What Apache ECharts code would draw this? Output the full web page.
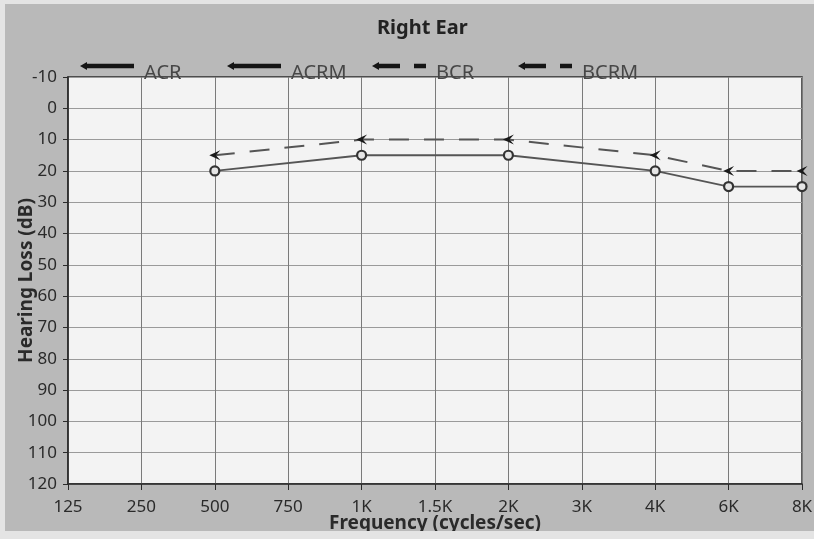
<!DOCTYPE html>
<html>
<head>
<meta charset="utf-8">
<script src="https://cdn.jsdelivr.net/npm/echarts@6/dist/echarts.min.js"></script>
<style>
  html, body {
    margin: 0;
    padding: 0;
    background: #e4e4e4;
  }
  .container {
    position: absolute;
    left: 5px;
    top: 4px;
    width: 809px;
    height: 527px;
    background: #b9b9b9;
  }
</style>
</head>
<body>
<div class="container" id="main"></div>
<script>
// 频率（横轴类目）
const frequencies = ['125', '250', '500', '750', '1K', '1.5K', '2K', '3K', '4K', '6K', '8K']
// 气导 ACR（右耳）
const acrValues = [null, null, 20, null, 15, null, 15, null, 20, 25, 25]
// 骨导 BCR（右耳）
const bcrValues = [null, null, 15, null, 10, null, 10, null, 15, 20, 20]
// 无数据的掩蔽系列
const acrmValues = []
const bcrmValues = []
// 图例名称
const legendNames = ['ACR', 'ACRM', 'BCR', 'BCRM']

const lineIcon = 'path://M0,4 L7,0 L7,1.8 L54,1.8 L54,6.2 L7,6.2 L7,8 Z'
const dashIcon = 'path://M0,4 L7,0 L7,1.8 L28,1.8 L28,6.2 L7,6.2 L7,8 Z M42,1.8 L54,1.8 L54,6.2 L42,6.2 Z'
const arrowSymbol = 'path://M0,5 L10,0 L6,5 L10,10 Z'
const font = '"Noto Sans", "DejaVu Sans", sans-serif'

const mChart = echarts.init(document.getElementById('main'))

/**
 * 每个图例单独放置，间距固定
 */
const legendLefts = [70, 217, 362, 508]
const legendIcons = [lineIcon, lineIcon, dashIcon, dashIcon]
const legends = legendNames.map((name, i) => ({
  left: legendLefts[i],
  top: 53,
  itemWidth: 54,
  itemHeight: 8,
  selectedMode: false,
  itemStyle: { color: '#151515', borderWidth: 0 },
  formatter: n => `{t|${n}}`,
  textStyle: {
    fontFamily: font,
    fontSize: 20,
    color: '#474747',
    rich: {
      t: {
        fontFamily: font,
        fontSize: 20,
        color: '#474747',
        padding: [15, 0, 0, 5]
      }
    }
  },
  data: [{ name, icon: legendIcons[i] }]
}))

const options = {
  animation: false,
  title: {
    text: 'Right Ear',
    left: 367,
    top: 9,
    textStyle: { fontFamily: font, fontSize: 20, fontWeight: 'bold', color: '#222' }
  },
  legend: legends,
  grid: {
    left: 63,
    right: 12,
    top: 73,
    bottom: 47,
    outerBoundsMode: 'none',
    show: true,
    backgroundColor: '#f3f3f3',
    borderColor: '#2a2a2a',
    borderWidth: 1.5
  },
  xAxis: {
    type: 'category',
    boundaryGap: false,
    data: frequencies,
    name: 'Frequency (cycles/sec)',
    nameLocation: 'middle',
    nameGap: 30,
    nameMoveOverlap: false,
    nameTextStyle: { fontFamily: font, fontSize: 19, fontWeight: 'bold', color: '#2a2a2a' },
    axisLine: { onZero: false, lineStyle: { color: '#2a2a2a', width: 1.5 } },
    axisTick: { show: true, length: 6, alignWithLabel: true, lineStyle: { color: '#2a2a2a' } },
    axisLabel: { fontFamily: font, fontSize: 17, color: '#2a2a2a', margin: 15 },
    splitLine: { show: true, lineStyle: { color: '#7a7a7a', width: 1 } }
  },
  yAxis: {
    type: 'value',
    inverse: true,
    min: -10,
    max: 120,
    interval: 10,
    name: 'Hearing Loss (dB)',
    nameLocation: 'middle',
    nameGap: 32,
    nameMoveOverlap: false,
    nameTextStyle: { fontFamily: font, fontSize: 19, fontWeight: 'bold', color: '#2a2a2a' },
    axisLine: { show: true, lineStyle: { color: '#2a2a2a', width: 1.5 } },
    axisTick: { show: true, length: 5, lineStyle: { color: '#2a2a2a' } },
    axisLabel: { fontFamily: font, fontSize: 17, color: '#2a2a2a', margin: 11 },
    splitLine: { show: true, lineStyle: { color: '#9a9a9a', width: 1 } }
  },
  series: [
    {
      name: 'ACR',
      type: 'line',
      connectNulls: true,
      data: acrValues,
      color: '#151515',
      symbol: 'circle',
      symbolSize: 9,
      lineStyle: { color: '#555', width: 1.8 },
      itemStyle: { color: '#e6e6e6', borderColor: '#333', borderWidth: 2.2 }
    },
    {
      name: 'ACRM',
      type: 'line',
      data: acrmValues,
      color: '#151515'
    },
    {
      name: 'BCR',
      type: 'line',
      connectNulls: true,
      data: bcrValues,
      color: '#151515',
      symbol: arrowSymbol,
      symbolSize: [11, 10],
      lineStyle: { color: '#555', width: 2, type: [20, 15] },
      itemStyle: { color: '#1a1a1a' }
    },
    {
      name: 'BCRM',
      type: 'line',
      data: bcrmValues,
      color: '#151515'
    }
  ]
}

mChart.setOption(options)
</script>
</body>
</html>
